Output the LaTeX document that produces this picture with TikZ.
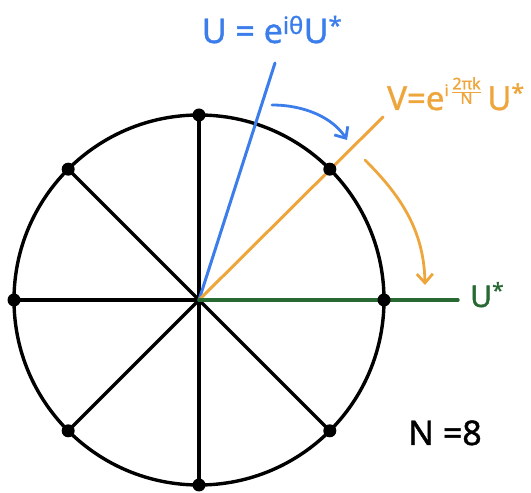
\documentclass[tikz,border=0pt]{standalone}
\usepackage{fontspec}
\setmainfont{Noto Sans}
\newfontfamily\hand[FakeBold=1.2]{Noto Sans}
\usetikzlibrary{arrows.meta}
\definecolor{ublue}{RGB}{58,125,235}
\definecolor{vorange}{RGB}{238,166,60}
\definecolor{ugreen}{RGB}{40,105,50}
\begin{document}
\begin{tikzpicture}[x=1pt,y=1pt,line cap=round,
  blk/.style={line width=3.4pt},
  dot/.style={circle,fill=black,inner sep=0pt,minimum size=13pt},
  lbl/.style={inner sep=0pt,font=\hand\fontsize{34}{40}\selectfont},
  arr/.style={line width=2.8pt,-{Straight Barb[length=9pt,width=16pt,line width=2.8pt]}}]
\useasboundingbox (0,0) rectangle (531,493);
\coordinate (O) at (199,193);
\foreach \a [count=\i from 0] in {0,45,...,315}
  \coordinate (p\i) at ([shift={(\a:185)}]O);
\draw[blk] (O) circle (185);
\foreach \i in {2,...,7}
  \draw[blk] (O) -- (p\i);
% coloured rays
\coordinate (bend) at (275,430);
\coordinate (oend) at (383,376);
\coordinate (gend) at (458,193);
\draw[ublue,line width=3pt] (O) -- (bend);
\draw[vorange,line width=3pt] (O) -- (oend);
\draw[ugreen,line width=3.4pt] (O) -- (gend);
\foreach \i in {0,...,7}
  \node[dot] (d\i) at (p\i) {};
% arrows
\coordinate (ba) at (272,388);
\coordinate (bb) at (347,353);
\draw[ublue,arr] (ba) .. controls (305,388) and (333,375) .. (bb);
\coordinate (oa) at (365,333);
\coordinate (ob) at (425,208);
\draw[vorange,arr] (oa) .. controls (398,300) and (424,265) .. (ob);
% labels
\node[lbl,text=ublue,anchor=base] (ulbl) at (272,450)
  {U = e\textsuperscript{iθ}U\textsuperscript{*}};
\node[lbl,text=vorange,anchor=base west,font=\hand\fontsize{33}{38}\selectfont] (vlbl) at (387,383)
  {V=e\raisebox{0.42em}{\fontsize{16}{16}\selectfont i\,${\mbox{2πk}\over\mbox{N}}$}\,U\textsuperscript{*}};
\node[lbl,text=ugreen,anchor=base west,font=\hand\fontsize{30}{36}\selectfont] (glbl) at (470,186)
  {U\textsuperscript{*}};
\node[lbl,anchor=base west] (nlbl) at (408,48) {N =8};
\end{tikzpicture}
\end{document}
